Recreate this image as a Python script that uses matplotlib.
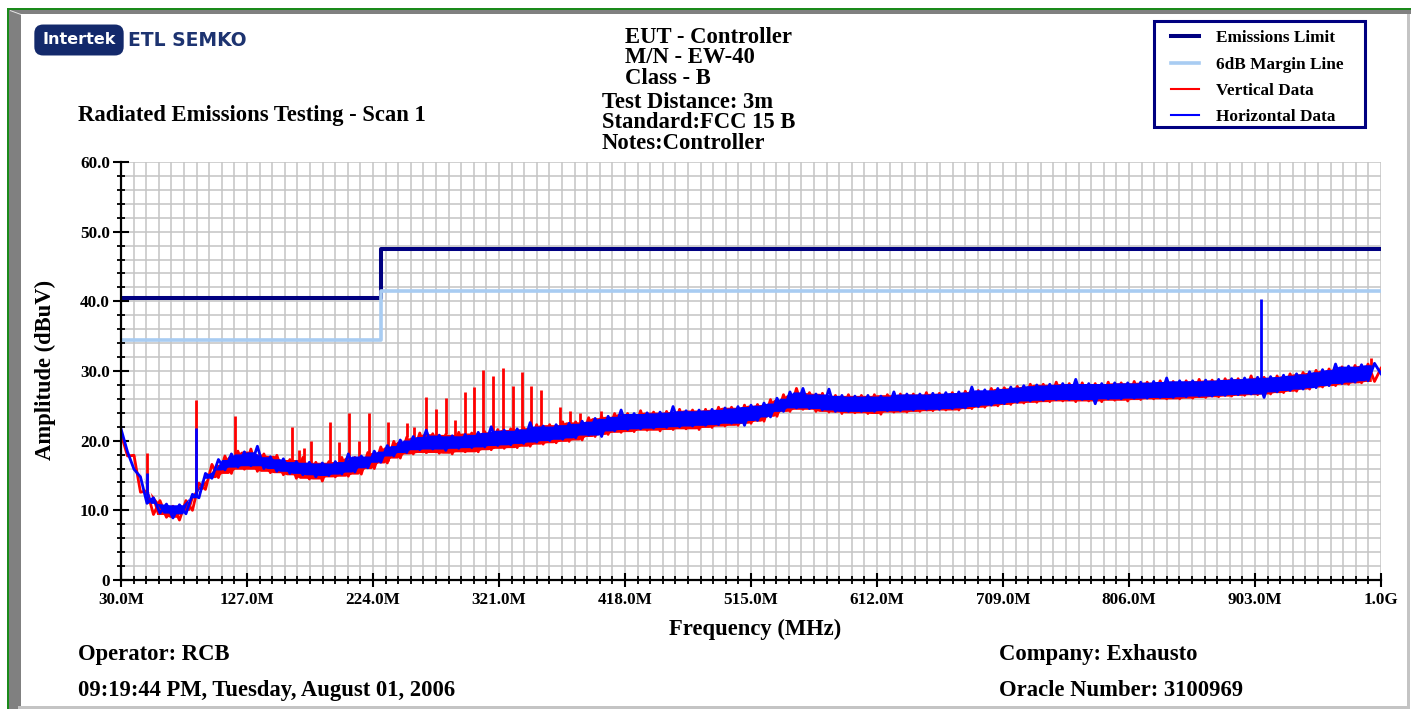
import numpy as np
import matplotlib
matplotlib.use('Agg')
import matplotlib.pyplot as plt
from matplotlib.patches import Rectangle, Polygon
from matplotlib.lines import Line2D
from matplotlib.font_manager import FontProperties

# ---------------- data ----------------
freq_start, freq_step = 30.0, 5.0   # MHz sampling of the typed traces

vertical_data = [
    21.0, 17.8, 17.9, 12.6, 12.8, 9.4, 11.4, 9.0, 10.6, 8.6,
    11.4, 10.0, 13.9, 13.0, 16.6, 14.7, 17.8, 15.3, 18.5, 15.9,
    18.8, 15.6, 18.1, 15.4, 17.9, 15.1, 17.3, 14.6, 17.6, 14.5,
    16.9, 14.2, 17.0, 14.8, 17.6, 14.9, 17.6, 15.2, 18.3, 16.0,
    19.1, 16.8, 19.9, 17.5, 20.5, 18.1, 21.1, 18.3, 21.0, 18.2,
    20.9, 18.1, 21.2, 18.4, 21.1, 18.4, 21.3, 18.7, 21.6, 18.9,
    21.7, 19.0, 21.9, 19.2, 22.3, 19.5, 22.3, 19.7, 22.7, 19.9,
    22.7, 20.1, 23.3, 20.6, 23.5, 20.9, 23.9, 21.2, 23.9, 21.3,
    24.3, 21.5, 24.1, 21.4, 24.2, 21.6, 24.5, 21.7, 24.4, 21.6,
    24.5, 21.9, 24.8, 22.1, 24.8, 22.2, 25.1, 22.5, 25.2, 22.8,
    25.9, 23.5, 26.6, 24.2, 27.5, 24.5, 26.9, 24.2, 26.8, 24.1,
    26.5, 23.9, 26.6, 24.0, 26.5, 23.9, 26.6, 23.8, 26.6, 24.1,
    26.7, 24.1, 26.7, 24.2, 26.9, 24.3, 26.8, 24.4, 26.9, 24.4,
    27.1, 24.6, 27.2, 24.8, 27.5, 25.0, 27.6, 25.2, 27.8, 25.4,
    28.1, 25.5, 28.1, 25.6, 28.4, 25.7, 28.2, 25.6, 28.3, 25.7,
    28.2, 25.6, 28.4, 25.8, 28.3, 25.7, 28.5, 25.9, 28.4, 26.0,
    28.6, 26.0, 28.5, 26.0, 28.6, 26.1, 28.8, 26.2, 28.7, 26.3,
    28.9, 26.4, 28.9, 26.5, 29.3, 26.6, 29.1, 26.7, 29.3, 26.9,
    29.6, 27.1, 29.8, 27.4, 30.1, 27.7, 30.3, 27.9, 30.6, 28.1,
    30.8, 28.3, 31.0, 28.5, 30.4,
]

horizontal_data = [
    21.7, 18.4, 15.9, 14.8, 11.0, 11.8, 9.6, 10.9, 8.9, 10.8,
    9.5, 12.3, 11.8, 15.3, 14.6, 17.3, 15.8, 18.1, 16.2, 18.4,
    16.4, 19.2, 16.0, 17.7, 15.6, 17.4, 15.3, 17.0, 15.1, 16.9,
    14.8, 16.8, 15.0, 17.0, 15.2, 18.1, 15.5, 17.8, 16.1, 18.5,
    16.9, 19.3, 17.8, 20.1, 18.3, 20.6, 18.7, 21.5, 18.8, 20.8,
    18.6, 20.7, 18.9, 20.9, 19.0, 21.2, 19.1, 22.0, 19.3, 21.5,
    19.4, 21.7, 19.6, 22.6, 19.8, 22.1, 20.0, 22.3, 20.2, 22.5,
    20.4, 22.8, 20.8, 23.2, 20.6, 23.5, 21.4, 24.4, 21.6, 23.9,
    21.7, 24.0, 21.8, 24.1, 21.9, 24.9, 22.0, 24.3, 22.1, 24.4,
    22.2, 24.5, 22.3, 24.7, 22.5, 24.9, 22.2, 25.1, 22.9, 25.4,
    23.4, 26.1, 24.2, 27.0, 24.7, 27.5, 24.6, 26.7, 24.4, 27.4,
    24.2, 26.5, 24.2, 26.4, 24.2, 26.5, 24.2, 26.4, 24.3, 27.0,
    24.3, 26.7, 24.4, 26.7, 24.5, 26.8, 24.5, 26.9, 24.6, 27.0,
    24.7, 27.7, 24.9, 27.3, 25.1, 27.5, 25.3, 27.7, 25.5, 27.9,
    25.7, 28.0, 25.8, 28.1, 25.9, 28.2, 25.9, 28.8, 25.9, 28.2,
    25.3, 28.2, 26.0, 28.3, 26.0, 28.3, 26.1, 28.4, 26.1, 28.5,
    26.2, 29.0, 26.2, 28.6, 26.3, 28.6, 26.4, 28.7, 26.4, 28.8,
    26.5, 28.9, 26.6, 29.0, 26.7, 29.1, 26.2, 29.2, 27.0, 29.4,
    27.2, 29.6, 27.4, 29.9, 27.6, 30.2, 27.9, 31.0, 28.2, 30.7,
    28.4, 30.9, 28.6, 31.1, 29.6,
]

# narrow-band spikes (frequency MHz, peak dBuV)
vertical_spike_freq = [50, 88, 118, 162, 167, 171, 176, 191, 198, 205.6, 213, 220.6,
                       235.5, 250, 255.5, 265, 272.5, 280, 287, 294.5, 302, 309,
                       316.5, 324, 331.5, 339, 346, 353.5, 368, 375.5, 383, 399.5, 992]
vertical_spike_peak = [18.2, 25.8, 23.5, 22.0, 18.7, 18.9, 19.9, 22.7, 19.8, 23.9, 20.0, 24.0,
                       22.7, 22.6, 21.9, 26.3, 24.5, 26.1, 22.9, 27.0, 27.7, 30.1,
                       29.3, 30.4, 27.8, 29.9, 27.8, 27.3, 24.9, 24.2, 24.0, 24.2, 31.9]
horizontal_spike_freq = [50, 88, 908]
horizontal_spike_peak = [15.3, 21.8, 40.4]

limit_freq = [30, 230, 1000]
emissions_limit = [40.5, 47.5, 47.5]
margin_line = [34.5, 41.5, 41.5]

legend_labels = ['Emissions Limit', '6dB Margin Line', 'Vertical Data', 'Horizontal Data']
x_tick_labels = ['30.0M', '127.0M', '224.0M', '321.0M', '418.0M', '515.0M',
                 '612.0M', '709.0M', '806.0M', '903.0M', '1.0G']
y_tick_labels = ['0', '10.0', '20.0', '30.0', '40.0', '50.0', '60.0']

# ---------------- figure ----------------
W, H = 1411, 709
fig = plt.figure(figsize=(W / 100, H / 100), dpi=100)
fig.patch.set_facecolor('white')
SERIF = 'Liberation Serif'


def fx(px):
    return px / W


def fy(py):
    return 1 - py / H


def rect(x0, y0, x1, y1, color, z=0, ec='none', lw=0):
    fig.add_artist(Rectangle((fx(x0), fy(y1)), fx(x1) - fx(x0), fy(y0) - fy(y1),
                             transform=fig.transFigure, facecolor=color,
                             edgecolor=ec, linewidth=lw, zorder=z))


# frame
rect(7, 8, W, 10, '#1a8a1a')          # green top
rect(7, 8, 9, H, '#1a8a1a')           # green left
rect(9, 10, W, 14, '#808080')         # gray top bevel
rect(9, 10, 21, H, '#808080')         # gray left bevel
rect(18, 706, 1409, H, '#c4c4c4')     # bottom light line
rect(1407, 14, 1410, H, '#c4c4c4')    # right light line
fig.add_artist(Polygon([(fx(10), fy(10)), (fx(21), fy(14)), (fx(21), fy(15)), (fx(10), fy(11))],
                       closed=True, transform=fig.transFigure, facecolor='#e8e8e8',
                       edgecolor='none', zorder=1))

# axes
ax = fig.add_axes([fx(121), fy(580), fx(1381) - fx(121), fy(162) - fy(580)])
ax.set_xlim(30, 1000)
ax.set_ylim(0, 60)

x_major = np.linspace(30, 1000, len(x_tick_labels))
x_minor = np.linspace(30, 1000, 101)
y_major = np.linspace(0, 60, len(y_tick_labels))
y_minor = np.linspace(0, 60, 31)
ax.set_xticks(x_major)
ax.set_xticks(x_minor, minor=True)
ax.set_yticks(y_major)
ax.set_yticks(y_minor, minor=True)
ax.set_xticklabels(x_tick_labels)
ax.set_yticklabels(y_tick_labels)

tick_font = FontProperties(family=SERIF, weight='bold', size=12.3)
for lab in ax.get_xticklabels() + ax.get_yticklabels():
    lab.set_fontproperties(tick_font)

ax.grid(which='both', color='#c4c4c4', linewidth=1.1)
ax.set_axisbelow(True)
ax.tick_params(axis='x', which='major', direction='inout', length=10, width=1.5, pad=4, color='black')
ax.tick_params(axis='x', which='minor', direction='inout', length=6, width=1.3, color='black')
ax.tick_params(axis='y', which='major', direction='inout', length=12, width=1.5, pad=2, color='black')
ax.tick_params(axis='y', which='minor', direction='inout', length=6, width=1.3, color='black')
for s in ['top', 'right']:
    ax.spines[s].set_visible(False)
for s in ['left', 'bottom']:
    ax.spines[s].set_linewidth(1.6)
    ax.spines[s].set_color('black')
    ax.spines[s].set_zorder(6)

freq = freq_start + freq_step * np.arange(len(vertical_data))
vert = np.array(vertical_data)
hori = np.array(horizontal_data)

l_lim, = ax.plot(limit_freq, emissions_limit, drawstyle='steps-post', color='#000080', lw=2.9, zorder=3)
l_mar, = ax.plot(limit_freq, margin_line, drawstyle='steps-post', color='#a8ccf2', lw=2.6, zorder=3.5)


def band(values, color, z):
    # solid core of the noisy trace, then the trace itself on top
    hi = np.maximum(values[:-1], values[1:])
    lo = np.minimum(values[:-1], values[1:])
    mid = (freq[:-1] + freq[1:]) / 2
    core_hi = np.minimum.reduce([hi[:-2], hi[1:-1], hi[2:]])
    core_lo = np.maximum.reduce([lo[:-2], lo[1:-1], lo[2:]])
    ax.fill_between(mid[1:-1], core_lo, np.maximum(core_hi, core_lo), color=color, lw=0, zorder=z)
    line, = ax.plot(freq, values, color=color, lw=2.0, zorder=z)
    return line


l_red = band(vert, '#ff0000', 4)
ax.vlines(vertical_spike_freq, np.interp(vertical_spike_freq, freq, vert), vertical_spike_peak,
          color='#ff0000', lw=2.0, zorder=4)
l_blue = band(hori, '#0000ff', 5)
ax.vlines(horizontal_spike_freq, np.interp(horizontal_spike_freq, freq, hori), horizontal_spike_peak,
          color='#0000ff', lw=2.0, zorder=5)

# legend (drawn in figure pixels to match the reference box)
rect(1154, 21, 1365, 127, 'white', z=7, ec='#000080', lw=2.2)
leg_font = dict(family=SERIF, weight='bold', size=12.4, color='black')
leg_widths = [l_lim.get_linewidth(), l_mar.get_linewidth(), 1.5, 1.5]
for (handle, label, yc, lw) in zip([l_lim, l_mar, l_red, l_blue], legend_labels, [36, 63, 89, 115], leg_widths):
    fig.add_artist(Line2D([fx(1171), fx(1199)], [fy(yc), fy(yc)], transform=fig.transFigure,
                          color=handle.get_color(), lw=lw, zorder=8))
    fig.text(fx(1216), fy(yc + 5.7), label, ha='left', va='baseline', zorder=8, **leg_font)

# texts
tf = dict(family=SERIF, weight='bold', size=16.3, color='black')
fig.text(fx(78), fy(121), 'Radiated Emissions Testing - Scan 1', ha='left', va='baseline', **tf)
fig.text(fx(625), fy(42.7), 'EUT - Controller', ha='left', va='baseline', **tf)
fig.text(fx(625), fy(63.3), 'M/N - EW-40', ha='left', va='baseline', **tf)
fig.text(fx(625), fy(84), 'Class - B', ha='left', va='baseline', **tf)
fig.text(fx(602), fy(108.3), 'Test Distance: 3m', ha='left', va='baseline', **tf)
fig.text(fx(602), fy(128.3), 'Standard:FCC 15 B', ha='left', va='baseline', **tf)
fig.text(fx(602), fy(149.3), 'Notes:Controller', ha='left', va='baseline', **tf)
fig.text(fx(45), fy(370), 'Amplitude (dBuV)', ha='center', va='center', rotation=90, **tf)
fig.text(fx(755), fy(635), 'Frequency (MHz)', ha='center', va='baseline', **tf)
fig.text(fx(78), fy(660), 'Operator: RCB', ha='left', va='baseline', **tf)
fig.text(fx(78), fy(696), '09:19:44 PM, Tuesday, August 01, 2006', ha='left', va='baseline', **tf)
fig.text(fx(999), fy(660), 'Company: Exhausto', ha='left', va='baseline', **tf)
fig.text(fx(999), fy(696), 'Oracle Number: 3100969', ha='left', va='baseline', **tf)

# logo
fig.text(fx(79), fy(40), 'Intertek', ha='center', va='center', family='DejaVu Sans',
         weight='bold', size=11.5, color='white',
         bbox=dict(boxstyle='round,pad=0.5,rounding_size=0.55', fc='#13296b', ec='none'))
fig.text(fx(128), fy(40), 'ETL SEMKO', ha='left', va='center', family='DejaVu Sans',
         weight='bold', size=13.5, color='#1d3370')

fig.savefig('out.png', dpi=100)
